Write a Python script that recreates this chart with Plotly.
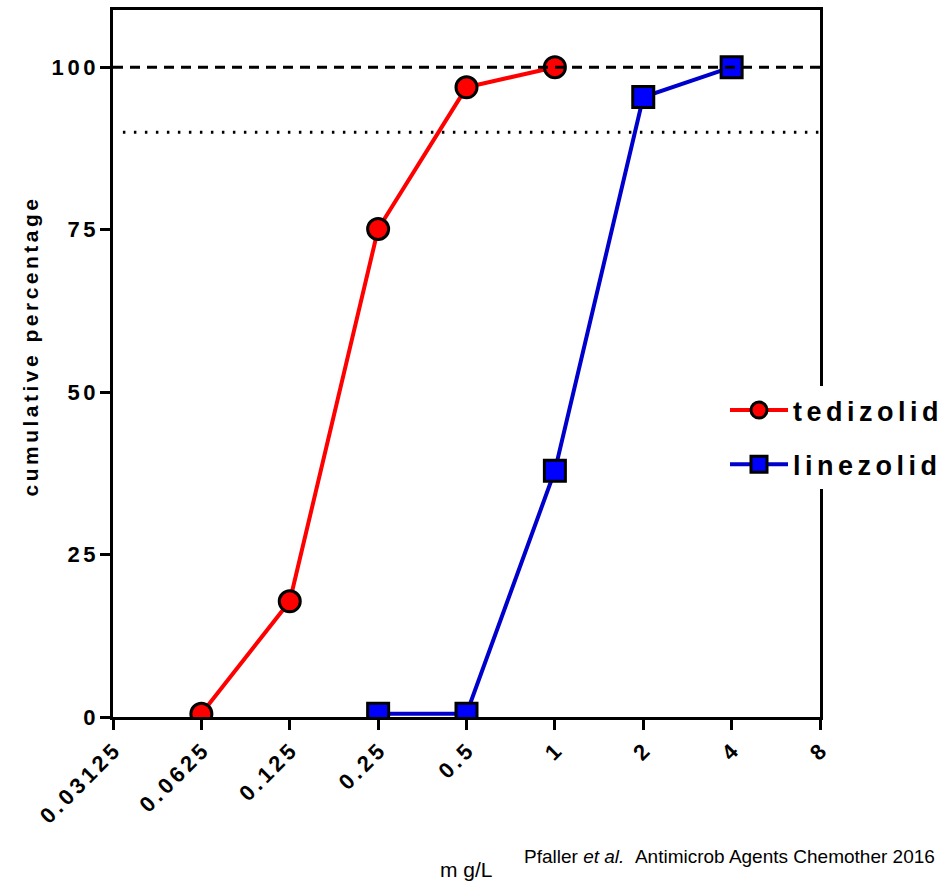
import math
import plotly.graph_objects as go

# MIC values (mg/L) and cumulative percentage inhibited
mic_ticks = [0.03125, 0.0625, 0.125, 0.25, 0.5, 1, 2, 4, 8]
mic_tick_labels = ["0.03125", "0.0625", "0.125", "0.25", "0.5", "1", "2", "4", "8"]

tedizolid_mic = [0.0625, 0.125, 0.25, 0.5, 1]
tedizolid_pct = [0.5, 17.8, 75.1, 96.9, 100]

linezolid_mic = [0.25, 0.5, 1, 2, 4]
linezolid_pct = [0.5, 0.5, 37.9, 95.4, 100]

y_ticks = [0, 25, 50, 75, 100]
reference_lines = [100, 90]

GAP = "\u2006"  # six-per-em space used as letter spacing


def spaced(s, gap=GAP):
    """Spread characters apart to mimic letter spacing."""
    return gap.join(s)


BOLD = dict(family="Liberation Sans", color="black", weight="bold")

fig = go.Figure()

fig.add_trace(go.Scatter(
    x=tedizolid_mic, y=tedizolid_pct, mode="lines+markers",
    name=spaced("tedizolid"), legendgroup="t",
    line=dict(color="#FF0000", width=4),
    marker=dict(symbol="circle", size=21, color="#FF0000",
                line=dict(color="black", width=3)),
))
fig.add_trace(go.Scatter(
    x=linezolid_mic, y=linezolid_pct, mode="lines+markers",
    name=spaced("linezolid"), legendgroup="l",
    line=dict(color="#0000CC", width=4),
    marker=dict(symbol="square", size=21, color="#0000FF",
                line=dict(color="black", width=3)),
))

# 100 % (dashed) and 90 % (dotted) reference levels
fig.add_shape(type="line", xref="paper", x0=0, x1=1, yref="y",
              y0=reference_lines[0], y1=reference_lines[0], layer="above",
              line=dict(color="black", width=3, dash="10px,7px"))
fig.add_shape(type="line", xref="paper", x0=0.014, x1=1, yref="y",
              y0=reference_lines[1], y1=reference_lines[1], layer="above",
              line=dict(color="black", width=3, dash="2.5px,8.5px"))

fig.update_xaxes(
    type="log",
    range=[math.log10(mic_ticks[0]), math.log10(mic_ticks[-1])],
    tickvals=mic_ticks, ticktext=[spaced(t) for t in mic_tick_labels],
    tickangle=-45, tickfont=dict(size=22, **BOLD),
    ticks="outside", ticklen=10, tickwidth=3, tickcolor="black",
    showline=True, linewidth=3, linecolor="black", mirror=True,
    showgrid=False, zeroline=False,
)
fig.update_yaxes(
    range=[0, 108.8],
    tickvals=y_ticks, ticktext=[spaced(str(v)) for v in y_ticks],
    tickfont=dict(size=22, **BOLD),
    ticks="outside", ticklen=10, tickwidth=3, tickcolor="black",
    showline=True, linewidth=3, linecolor="black", mirror=True,
    showgrid=False, zeroline=False,
)

fig.add_annotation(
    text=spaced("cumulative") + GAP + " " + GAP + spaced("percentage"),
    xref="paper", yref="paper", x=-0.117, y=0.523, xanchor="center",
    yanchor="middle", textangle=-90, showarrow=False,
    font=dict(size=21, **BOLD),
)
fig.add_annotation(
    text="m g/L", xref="paper", yref="paper", x=0.5, y=-0.216,
    xanchor="center", yanchor="middle", showarrow=False,
    font=dict(family="Liberation Sans", size=21, color="black"),
)
fig.add_annotation(
    text="Pfaller <i>et al.</i>\u00a0\u00a0Antimicrob Agents Chemother 2016",
    xref="paper", yref="paper", x=(522 - 113) / 707, y=-0.198,
    xanchor="left", yanchor="middle", showarrow=False,
    font=dict(family="Liberation Sans", size=19, color="black"),
)

fig.update_layout(
    width=943, height=882,
    margin=dict(l=113, r=123, t=10, b=165, pad=0, autoexpand=False),
    plot_bgcolor="white", paper_bgcolor="white",
    showlegend=True,
    legend=dict(
        x=(725 - 113) / 707, y=(717 - 386) / 707, xanchor="left", yanchor="top",
        bgcolor="white", borderwidth=0, tracegroupgap=16,
        font=dict(size=27, **BOLD), itemwidth=58,
    ),
)

fig.write_html("out.html")
